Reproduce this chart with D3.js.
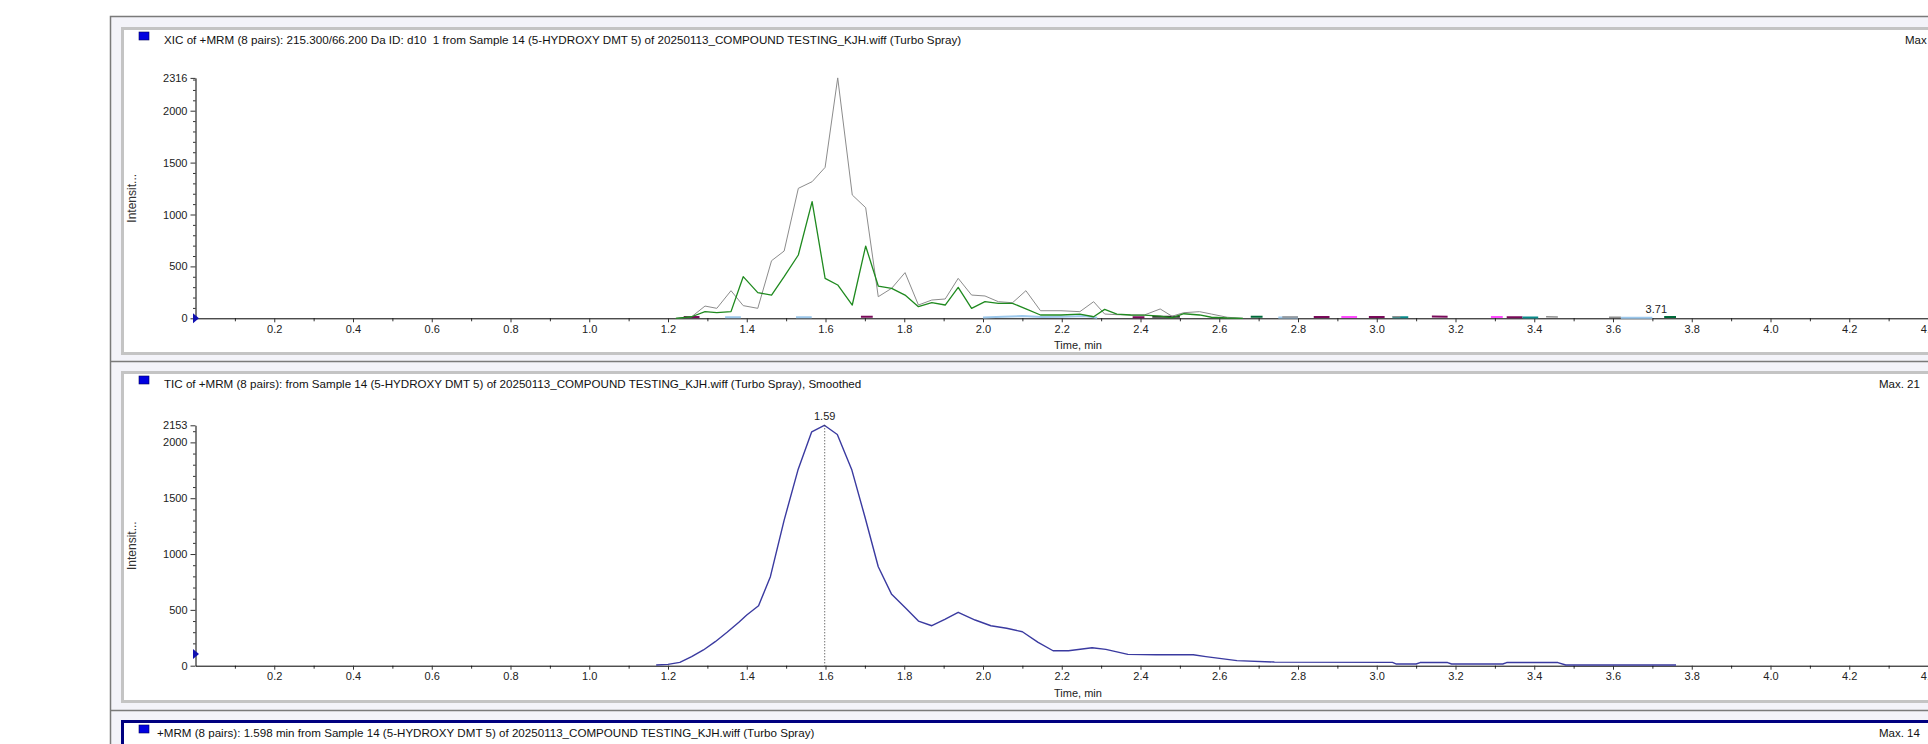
<!DOCTYPE html>
<html>
<head>
<meta charset="utf-8">
<script src="https://cdn.jsdelivr.net/npm/d3@7"></script>
<style>
  body { margin: 0; background: #fff; overflow: hidden; }
  svg { display: block; font-family: "Liberation Sans", Arial, sans-serif; }
  .title { white-space: pre; }
</style>
</head>
<body>
<div id="chart"></div>
<script>
const W = 1928, H = 744;

// ---- data ----
const titles = [
  "XIC of +MRM (8 pairs): 215.300/66.200 Da ID: d10  1 from Sample 14 (5-HYDROXY DMT 5) of 20250113_COMPOUND TESTING_KJH.wiff (Turbo Spray)",
  "TIC of +MRM (8 pairs): from Sample 14 (5-HYDROXY DMT 5) of 20250113_COMPOUND TESTING_KJH.wiff (Turbo Spray), Smoothed",
  "+MRM (8 pairs): 1.598 min from Sample 14 (5-HYDROXY DMT 5) of 20250113_COMPOUND TESTING_KJH.wiff (Turbo Spray)"
];
const maxLabels = ["Max", "Max. 21", "Max. 14"];

const xTicks = [0.2, 0.4, 0.6, 0.8, 1.0, 1.2, 1.4, 1.6, 1.8, 2.0, 2.2, 2.4, 2.6, 2.8, 3.0, 3.2, 3.4, 3.6, 3.8, 4.0, 4.2, 4.4];
const xMinorTicks = [0.1, 0.3, 0.5, 0.7, 0.9, 1.1, 1.3, 1.5, 1.7, 1.9, 2.1, 2.3, 2.5, 2.7, 2.9, 3.1, 3.3, 3.5, 3.7, 3.9, 4.1, 4.3];

const xicTicks = [0, 500, 1000, 1500, 2000, 2316];
const ticTicks = [0, 500, 1000, 1500, 2000, 2153];

const xicTimes = [1.22, 1.26, 1.294, 1.324, 1.36, 1.391, 1.428, 1.463, 1.495, 1.531, 1.566, 1.599, 1.631, 1.668, 1.702, 1.734, 1.768, 1.802, 1.836, 1.87, 1.904, 1.937, 1.971, 2.005, 2.039, 2.075, 2.109, 2.146, 2.198, 2.246, 2.281, 2.309, 2.34, 2.375, 2.41, 2.45, 2.48, 2.51, 2.55, 2.58, 2.62, 2.66];
const xicGray  = [0, 15, 118, 96, 266, 122, 96, 555, 648, 1252, 1316, 1454, 2316, 1188, 1066, 208, 289, 440, 128, 176, 186, 385, 224, 215, 160, 150, 266, 73, 73, 64, 160, 41, 35, 32, 32, 90, 20, 54, 64, 41, 10, 0];
const xicGreen = [0, 15, 64, 54, 64, 401, 247, 224, 401, 610, 1124, 385, 321, 128, 696, 311, 289, 224, 112, 150, 128, 298, 96, 160, 144, 144, 90, 32, 32, 41, 15, 86, 41, 32, 30, 20, 5, 44, 32, 10, 3, 0];

// small transitions sitting on the baseline (only the raised parts are drawn)
const minorLightBlue = [[1.345, 10], [1.385, 10], [null, 0], [1.525, 10], [1.565, 9], [null, 0],
  [2.0, 8], [2.05, 15], [2.1, 22], [2.15, 12], [2.2, 15], [2.26, 22], [2.29, 6], [null, 0],
  [2.75, 8], [2.8, 8], [null, 0], [3.62, 6], [3.70, 6]];
const minorPurple = [[1.24, 12], [1.28, 12], [null, 0], [1.69, 14], [1.72, 14], [null, 0],
  [2.38, 10], [2.41, 10], [null, 0], [2.84, 12], [2.88, 12], [null, 0],
  [2.98, 12], [3.02, 12], [null, 0], [3.14, 18], [3.18, 16], [null, 0], [3.33, 10], [3.37, 10]];
const minorDark = [[2.43, 15], [2.50, 14]];
const minorPink = [[2.91, 12], [2.95, 12], [null, 0], [3.29, 12], [3.32, 12]];
const minorTeal = [[3.04, 10], [3.08, 10], [null, 0], [3.37, 8], [3.41, 8]];
const minorDarkGreen = [[2.68, 15], [2.71, 15], [null, 0], [3.73, 12], [3.76, 12]];
const minorGray = [[2.76, 12], [2.80, 12], [null, 0], [3.04, 14], [3.06, 14], [null, 0],
  [3.43, 14], [3.46, 12], [null, 0], [3.59, 10], [3.62, 10]];

const ticTimes  = [1.17, 1.20, 1.23, 1.26, 1.29, 1.32, 1.35, 1.38, 1.40, 1.43, 1.46, 1.495, 1.53, 1.565, 1.597, 1.63, 1.667, 1.70, 1.734, 1.768, 1.804, 1.836, 1.87, 1.903, 1.937, 1.98, 2.02, 2.06, 2.10, 2.14, 2.178, 2.217, 2.277, 2.312, 2.368, 2.44, 2.534, 2.566, 2.645, 2.74, 3.04, 3.05, 3.10, 3.11, 3.18, 3.19, 3.32, 3.33, 3.46, 3.48, 3.76];
const ticValues = [6, 12, 30, 81, 141, 215, 299, 389, 454, 537, 797, 1304, 1752, 2095, 2153, 2071, 1752, 1334, 886, 639, 514, 400, 358, 415, 478, 409, 358, 335, 304, 209, 134, 134, 161, 146, 101, 98, 98, 81, 45, 33, 30, 15, 15, 28, 28, 15, 15, 28, 28, 6, 6];

const peakLabels1 = [{ t: 3.71, text: "3.71", v: 0 }];
const peakLabels2 = [{ t: 1.598, text: "1.59", v: 2153 }];

// ---- layout ----
const x = d3.scaleLinear().domain([0, 4.5]).range([195.5, 195.5 + 4.5 * 393.75]);

const svg = d3.select("#chart").append("svg")
  .attr("width", W).attr("height", H);

svg.append("rect").attr("width", W).attr("height", H).attr("fill", "#fff");

// outer frame
svg.append("rect").attr("x", 110.5).attr("y", 16.5).attr("width", W).attr("height", H)
  .attr("fill", "#f3f3f9").attr("stroke", "#7a7a7a").attr("stroke-width", 1.5);

const panes = [
  { top: 28.5, bottom: 353.5, border: "#c4c4c4", bw: 3 },
  { top: 372.5, bottom: 701.5, border: "#c4c4c4", bw: 3 },
  { top: 721.5, bottom: 800, border: "#000080", bw: 3 }
];
[361.5, 710.5].forEach(yy => {
  svg.append("line").attr("x1", 110.5).attr("x2", W).attr("y1", yy).attr("y2", yy)
    .attr("stroke", "#7a7a7a").attr("stroke-width", 1.5);
});

const titleSizes = [11.65, 11.6, 11.6];
panes.forEach((p, i) => {
  svg.append("rect").attr("x", 122.5).attr("y", p.top).attr("width", W).attr("height", p.bottom - p.top)
    .attr("fill", "#fff").attr("stroke", p.border).attr("stroke-width", p.bw);
  svg.append("rect").attr("x", 139).attr("y", p.top + 3.5).attr("width", 10).attr("height", 8)
    .attr("fill", "#0000e0").attr("stroke", "#000060").attr("stroke-width", 0.6);
  svg.append("text").attr("class", "title").attr("x", i === 2 ? 157 : 164).attr("y", p.top + 15)
    .attr("font-size", titleSizes[i]).attr("fill", "#111").text(titles[i]);
  svg.append("text").attr("x", i === 0 ? 1905 : 1879).attr("y", p.top + 15)
    .attr("font-size", 11.5).attr("fill", "#111").text(maxLabels[i]);
});

function drawPlot(cfg) {
  const y = d3.scaleLinear().domain([0, cfg.max]).range([cfg.y0, cfg.y0 - 240.4]);
  const g = svg.append("g");

  // minor y ticks every 100
  const yMinor = d3.range(100, cfg.max, 100).filter(v => v % 500 !== 0);
  g.append("g").attr("transform", `translate(${x(0)},0)`)
    .call(d3.axisLeft(y).tickValues(yMinor).tickSize(2.5).tickFormat("").tickSizeOuter(0))
    .call(a => a.select(".domain").remove());
  const ya = g.append("g").attr("transform", `translate(${x(0)},0)`)
    .call(d3.axisLeft(y).tickValues(cfg.yTicks).tickSize(5).tickPadding(3)
      .tickFormat(d3.format("d")).tickSizeOuter(0));
  ya.selectAll("text").attr("font-size", 11).attr("fill", "#222").attr("font-family", null);

  // x axis
  g.append("g").attr("transform", `translate(0,${cfg.y0})`)
    .call(d3.axisBottom(x).tickValues(xMinorTicks).tickSize(3).tickFormat("").tickSizeOuter(0))
    .call(a => a.select(".domain").remove());
  const xa = g.append("g").attr("transform", `translate(0,${cfg.y0})`)
    .call(d3.axisBottom(x).tickValues(xTicks).tickSize(4).tickPadding(3)
      .tickFormat(d3.format(".1f")).tickSizeOuter(0));
  xa.selectAll("text").attr("font-size", 11).attr("fill", "#222").attr("font-family", null);
  g.selectAll(".domain").attr("stroke", "#000");
  g.selectAll(".tick line").attr("stroke", "#333");

  g.append("text").attr("x", 1078).attr("y", cfg.y0 + 31).attr("text-anchor", "middle")
    .attr("font-size", 11).attr("fill", "#222").text("Time, min");
  g.append("text").attr("transform", `translate(136,${cfg.y0 - 120})rotate(-90)`)
    .attr("text-anchor", "middle").attr("font-size", 12).attr("fill", "#333").text("Intensit...");

  // baseline marker
  const ty = y(cfg.marker);
  g.append("path").attr("d", d3.line()([[x(0) - 2.5, ty - 5], [x(0) + 3.5, ty], [x(0) - 2.5, ty + 5]]) + "Z")
    .attr("fill", "#1010b0");

  const line = d3.line().defined(d => d[0] !== null).x(d => x(d[0])).y(d => y(d[1]));
  cfg.traces.forEach(tr => {
    g.append("path").datum(tr.data).attr("d", line)
      .attr("fill", "none").attr("stroke", tr.color).attr("stroke-width", tr.w)
      .attr("stroke-linejoin", "round");
  });

  cfg.labels.forEach(l => {
    if (l.v > 0) {
      g.append("line").attr("x1", x(l.t)).attr("x2", x(l.t)).attr("y1", y(l.v)).attr("y2", cfg.y0)
        .attr("stroke", "#333").attr("stroke-dasharray", "1,2");
    }
    g.append("text").attr("x", x(l.t)).attr("y", y(l.v) - 5).attr("text-anchor", "middle")
      .attr("font-size", 11).attr("fill", "#222").text(l.text);
  });
}

const zipT = (ts, vs) => ts.map((t, i) => [t, vs[i]]);

drawPlot({
  y0: 318.3, max: 2316, yTicks: xicTicks, marker: 0,
  traces: [
    { data: minorLightBlue, color: "#9cc8ec", w: 2 },
    { data: minorPurple, color: "#7a0a5a", w: 2 },
    { data: minorDark, color: "#303030", w: 2 },
    { data: minorPink, color: "#ff4cff", w: 2 },
    { data: minorTeal, color: "#0a8c8c", w: 2 },
    { data: minorDarkGreen, color: "#006a3a", w: 2 },
    { data: minorGray, color: "#909090", w: 1.5 },
    { data: zipT(xicTimes, xicGray), color: "#8c8c8c", w: 1 },
    { data: zipT(xicTimes, xicGreen), color: "#1f8a1f", w: 1.3 }
  ],
  labels: peakLabels1
});

drawPlot({
  y0: 665.7, max: 2153, yTicks: ticTicks, marker: 105,
  traces: [
    { data: zipT(ticTimes, ticValues), color: "#3a3aa0", w: 1.4 }
  ],
  labels: peakLabels2
});
</script>
</body>
</html>
